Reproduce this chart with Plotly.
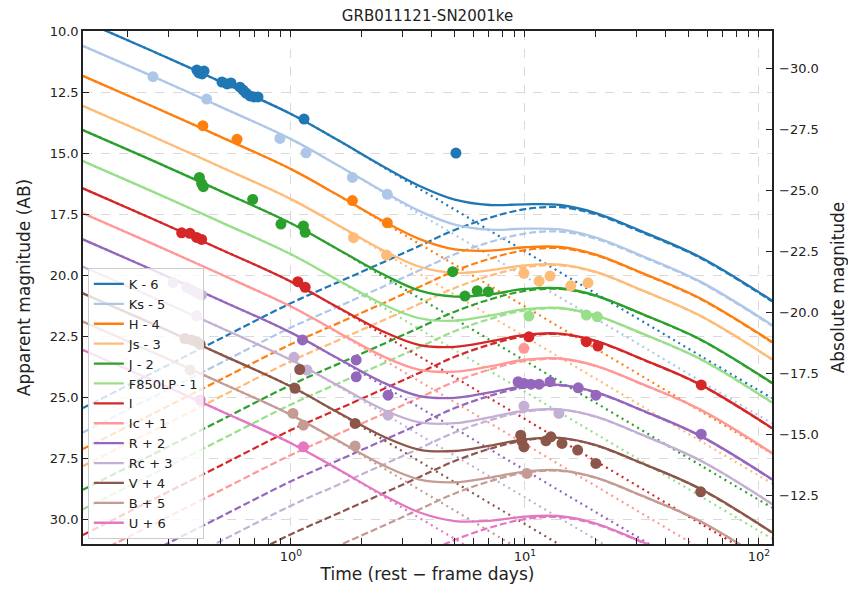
import plotly.graph_objects as go

# ---------------- data ----------------
bands = ["K - 6", "Ks - 5", "H - 4", "Js - 3", "J - 2", "F850LP - 1", "I",
         "Ic + 1", "R + 2", "Rc + 3", "V + 4", "B + 5", "U + 6"]

# model sample times (rest-frame days)
t_knots = [0.129, 0.251, 0.501, 1.0, 1.585, 2.512, 3.548, 5.012, 7.079,
           10.0, 14.13, 19.95, 31.62, 56.23, 113.8]

# afterglow component (dotted)
ag_K = [9.58, 10.79, 12.08, 13.40, 14.47, 15.61, 16.47, 17.32, 18.18, 19.03, 19.89, 20.74, 21.88, 23.31, 25.05]
ag_Ks = [10.61, 11.82, 13.11, 14.43, 15.50, 16.64, 17.50, 18.35, 19.21, 20.06, 20.92, 21.77, 22.91, 24.34, 26.08]
ag_H = [11.84, 13.05, 14.34, 15.66, 16.73, 17.87, 18.73, 19.58, 20.44, 21.29, 22.15, 23.00, 24.14, 25.57, 27.31]
ag_Js = [13.07, 14.28, 15.57, 16.89, 17.96, 19.10, 19.96, 20.81, 21.67, 22.52, 23.38, 24.23, 25.37, 26.80, 28.54]
ag_J = [14.06, 15.27, 16.56, 17.88, 18.95, 20.09, 20.95, 21.80, 22.66, 23.51, 24.37, 25.22, 26.36, 27.79, 29.53]
ag_F = [15.33, 16.54, 17.83, 19.15, 20.22, 21.36, 22.22, 23.07, 23.93, 24.78, 25.64, 26.49, 27.63, 29.06, 30.80]
ag_I = [16.45, 17.66, 18.95, 20.27, 21.34, 22.48, 23.34, 24.19, 25.05, 25.90, 26.76, 27.61, 28.75, 30.18, 31.92]
ag_Ic = [17.47, 18.68, 19.97, 21.29, 22.36, 23.50, 24.36, 25.21, 26.07, 26.92, 27.78, 28.63, 29.77, 31.20, 32.94]
ag_R = [18.54, 19.75, 21.04, 22.36, 23.43, 24.57, 25.43, 26.28, 27.14, 27.99, 28.85, 29.70, 30.84, 32.27, 34.01]
ag_Rc = [19.66, 20.87, 22.16, 23.48, 24.55, 25.69, 26.55, 27.40, 28.26, 29.11, 29.97, 30.82, 31.96, 33.39, 35.13]
ag_V = [20.75, 21.96, 23.25, 24.57, 25.64, 26.78, 27.64, 28.49, 29.35, 30.20, 31.06, 31.91, 33.05, 34.48, 36.22]
ag_B = [21.91, 23.12, 24.41, 25.73, 26.80, 27.94, 28.80, 29.65, 30.51, 31.36, 32.22, 33.07, 34.21, 35.64, 37.38]
ag_U = [23.07, 24.28, 25.57, 26.89, 27.96, 29.10, 29.96, 30.81, 31.67, 32.52, 33.38, 34.23, 35.37, 36.80, 38.54]

# supernova component (dashed)
sn_K = [25.45, 24.05, 22.60, 21.15, 20.30, 19.45, 18.80, 18.15, 17.65, 17.30, 17.22, 17.50, 18.25, 19.30, 21.08]
sn_Ks = [26.45, 25.05, 23.60, 22.15, 21.30, 20.45, 19.80, 19.15, 18.65, 18.30, 18.22, 18.50, 19.25, 20.30, 22.08]
sn_H = [27.13, 25.73, 24.28, 22.83, 21.98, 21.13, 20.48, 19.83, 19.33, 18.98, 18.90, 19.18, 19.93, 20.98, 22.76]
sn_Js = [27.83, 26.43, 24.98, 23.53, 22.68, 21.83, 21.18, 20.53, 20.03, 19.68, 19.60, 19.88, 20.63, 21.68, 23.46]
sn_J = [28.80, 27.40, 25.95, 24.50, 23.65, 22.80, 22.15, 21.50, 21.00, 20.65, 20.57, 20.85, 21.60, 22.65, 24.43]
sn_F = [29.60, 28.20, 26.75, 25.30, 24.45, 23.60, 22.95, 22.30, 21.80, 21.45, 21.37, 21.65, 22.40, 23.45, 25.23]
sn_I = [30.65, 29.25, 27.80, 26.35, 25.50, 24.65, 24.00, 23.35, 22.85, 22.50, 22.42, 22.70, 23.45, 24.50, 26.28]
sn_Ic = [31.67, 30.27, 28.82, 27.37, 26.52, 25.67, 25.02, 24.37, 23.87, 23.52, 23.44, 23.72, 24.47, 25.52, 27.30]
sn_R = [32.75, 31.35, 29.90, 28.45, 27.60, 26.75, 26.10, 25.45, 24.95, 24.60, 24.52, 24.80, 25.55, 26.60, 28.38]
sn_Rc = [33.75, 32.35, 30.90, 29.45, 28.60, 27.75, 27.10, 26.45, 25.95, 25.60, 25.52, 25.80, 26.55, 27.60, 29.38]
sn_V = [34.92, 33.52, 32.07, 30.62, 29.77, 28.92, 28.27, 27.62, 27.12, 26.77, 26.69, 26.97, 27.72, 28.77, 30.55]
sn_B = [36.25, 34.85, 33.40, 31.95, 31.10, 30.25, 29.60, 28.95, 28.45, 28.10, 28.02, 28.30, 29.05, 30.10, 31.88]
sn_U = [38.15, 36.75, 35.30, 33.85, 33.00, 32.15, 31.50, 30.85, 30.35, 30.00, 29.92, 30.20, 30.95, 32.00, 33.78]

# total light curve (solid)
tot_K = [9.58, 10.79, 12.08, 13.40, 14.47, 15.58, 16.35, 16.91, 17.13, 17.10, 17.13, 17.45, 18.21, 19.27, 21.05]
tot_Ks = [10.61, 11.82, 13.11, 14.43, 15.50, 16.61, 17.38, 17.93, 18.14, 18.10, 18.13, 18.45, 19.21, 20.27, 22.05]
tot_H = [11.84, 13.05, 14.34, 15.66, 16.72, 17.82, 18.53, 18.95, 19.00, 18.86, 18.85, 19.15, 19.91, 20.96, 22.74]
tot_Js = [13.07, 14.28, 15.57, 16.89, 17.95, 19.02, 19.66, 19.91, 19.81, 19.60, 19.57, 19.86, 20.62, 21.67, 23.45]
tot_J = [14.06, 15.27, 16.56, 17.88, 18.94, 20.00, 20.64, 20.88, 20.79, 20.57, 20.54, 20.83, 21.59, 22.64, 24.42]
tot_F = [15.33, 16.54, 17.83, 19.15, 20.20, 21.23, 21.77, 21.87, 21.66, 21.40, 21.35, 21.64, 22.39, 23.44, 25.22]
tot_I = [16.45, 17.66, 18.95, 20.27, 21.32, 22.34, 22.87, 22.94, 22.72, 22.45, 22.40, 22.69, 23.44, 24.49, 26.27]
tot_Ic = [17.47, 18.68, 19.97, 21.29, 22.34, 23.36, 23.89, 23.96, 23.74, 23.47, 23.42, 23.71, 24.46, 25.51, 27.29]
tot_R = [18.54, 19.75, 21.04, 22.36, 23.41, 24.43, 24.96, 25.03, 24.81, 24.55, 24.50, 24.79, 25.54, 26.59, 28.37]
tot_Rc = [19.66, 20.87, 22.16, 23.48, 24.52, 25.54, 26.04, 26.07, 25.83, 25.56, 25.50, 25.79, 26.54, 27.60, 29.38]
tot_V = [20.75, 21.96, 23.25, 24.57, 25.62, 26.64, 27.16, 27.21, 26.99, 26.73, 26.67, 26.96, 27.71, 28.76, 30.54]
tot_B = [21.91, 23.12, 24.41, 25.73, 26.78, 27.82, 28.38, 28.49, 28.30, 28.05, 28.00, 28.29, 29.04, 30.09, 31.87]
tot_U = [23.07, 24.28, 25.57, 26.89, 27.95, 29.04, 29.73, 30.08, 30.07, 29.90, 29.88, 30.17, 30.93, 31.99, 33.77]

# observations (days, mag)
obs_t_K = [0.396, 0.404, 0.417, 0.425, 0.507, 0.533, 0.554, 0.605, 0.624, 0.642, 0.668, 0.695, 0.723, 1.137, 5.07]
obs_m_K = [11.60, 11.72, 11.76, 11.64, 12.09, 12.17, 12.13, 12.30, 12.42, 12.54, 12.66, 12.70, 12.70, 13.61, 15.00]
obs_t_Ks = [0.257, 0.436, 0.897, 1.16, 1.83, 2.58]
obs_m_Ks = [11.87, 12.79, 14.40, 14.99, 16.00, 16.69]
obs_t_H = [0.42, 0.588, 1.83, 2.58]
obs_m_H = [13.88, 14.44, 16.95, 17.86]
obs_t_Js = [1.85, 2.56, 9.9, 11.5, 12.8, 15.7, 18.6]
obs_m_Js = [18.47, 19.18, 19.93, 20.25, 20.04, 20.44, 20.32]
obs_t_J = [0.406, 0.415, 0.422, 0.686, 0.906, 1.13, 1.15, 4.91, 5.54, 6.25, 6.97]
obs_m_J = [16.00, 16.25, 16.38, 16.90, 17.91, 17.99, 18.25, 19.86, 20.86, 20.64, 20.68]
obs_t_F = [10.4, 18.3, 20.4]
obs_m_F = [21.68, 21.64, 21.71]
obs_t_I = [0.341, 0.37, 0.395, 0.415, 1.07, 1.15, 10.4, 18.3, 20.5, 56.7]
obs_m_I = [18.27, 18.29, 18.46, 18.54, 20.27, 20.50, 22.53, 22.73, 22.91, 24.50]
obs_t_Ic = [9.9]
obs_m_Ic = [23.00]
obs_t_R = [1.12, 1.9, 1.9, 2.6, 9.35, 9.9, 10.6, 11.5, 12.8, 16.9, 20.1, 56.7]
obs_m_R = [22.66, 23.48, 24.17, 24.92, 24.37, 24.44, 24.47, 24.47, 24.37, 24.62, 24.92, 26.52]
obs_t_Rc = [0.313, 0.358, 0.376, 0.395, 0.415, 0.395, 1.03, 1.17, 2.6, 9.9, 13.97]
obs_m_Rc = [20.31, 20.50, 20.61, 20.72, 20.82, 21.67, 23.37, 23.89, 25.74, 25.37, 25.67]
obs_t_V = [0.352, 0.376, 0.395, 0.409, 1.09, 1.04, 1.88, 9.59, 9.7, 9.9, 12.3, 12.9, 14.4, 16.8, 20.1, 56.4]
obs_m_V = [22.60, 22.66, 22.73, 22.84, 23.87, 24.64, 26.08, 26.56, 26.80, 27.04, 26.79, 26.63, 26.90, 27.17, 27.72, 28.88]
obs_t_B = [0.37, 1.02, 1.13, 1.88, 10.2]
obs_m_B = [23.89, 25.67, 26.15, 27.00, 28.13]
obs_t_U = [0.409, 1.13]
obs_m_U = [25.12, 27.04]

# tick labels
x_tickvals = [1, 10, 100]
x_ticktext = ["10<sup>0</sup>", "10<sup>1</sup>", "10<sup>2</sup>"]
y_tickvals = [10.0, 12.5, 15.0, 17.5, 20.0, 22.5, 25.0, 27.5, 30.0]
y2_tickvals = [-30.0, -27.5, -25.0, -22.5, -20.0, -17.5, -15.0, -12.5]
y2_ticktext = ["\u221230.0", "\u221227.5", "\u221225.0", "\u221222.5",
               "\u221220.0", "\u221217.5", "\u221215.0", "\u221212.5"]
distance_modulus = 41.545

# ---------------- styling ----------------
colors = ["#1f77b4", "#aec7e8", "#ff7f0e", "#ffbb78", "#2ca02c", "#98df8a",
          "#d62728", "#ff9896", "#9467bd", "#c5b0d5", "#8c564b", "#c49c94",
          "#e377c2"]

ag_all = [ag_K, ag_Ks, ag_H, ag_Js, ag_J, ag_F, ag_I, ag_Ic, ag_R, ag_Rc, ag_V, ag_B, ag_U]
sn_all = [sn_K, sn_Ks, sn_H, sn_Js, sn_J, sn_F, sn_I, sn_Ic, sn_R, sn_Rc, sn_V, sn_B, sn_U]
tot_all = [tot_K, tot_Ks, tot_H, tot_Js, tot_J, tot_F, tot_I, tot_Ic, tot_R, tot_Rc, tot_V, tot_B, tot_U]
obs_t_all = [obs_t_K, obs_t_Ks, obs_t_H, obs_t_Js, obs_t_J, obs_t_F, obs_t_I, obs_t_Ic, obs_t_R, obs_t_Rc, obs_t_V, obs_t_B, obs_t_U]
obs_m_all = [obs_m_K, obs_m_Ks, obs_m_H, obs_m_Js, obs_m_J, obs_m_F, obs_m_I, obs_m_Ic, obs_m_R, obs_m_Rc, obs_m_V, obs_m_B, obs_m_U]

fig = go.Figure()

for i, name in enumerate(bands):
    c = colors[i]
    fig.add_trace(go.Scatter(x=t_knots, y=ag_all[i], mode="lines", line_shape="spline",
                             line=dict(color=c, width=2.2, dash="2px,4px"),
                             showlegend=False, hoverinfo="skip"))
    fig.add_trace(go.Scatter(x=t_knots, y=sn_all[i], mode="lines", line_shape="spline",
                             line=dict(color=c, width=2.2, dash="7px,3px"),
                             showlegend=False, hoverinfo="skip"))

for i, name in enumerate(bands):
    c = colors[i]
    fig.add_trace(go.Scatter(x=t_knots, y=tot_all[i], mode="lines", line_shape="spline",
                             line=dict(color=c, width=2.3), name=name))

for i, name in enumerate(bands):
    fig.add_trace(go.Scatter(x=obs_t_all[i], y=obs_m_all[i], mode="markers",
                             marker=dict(color=colors[i], size=11, line=dict(width=0)),
                             showlegend=False, hoverinfo="skip"))

# invisible trace that activates the right-hand axis
fig.add_trace(go.Scatter(x=[1], y=[-20], yaxis="y2", mode="markers",
                         marker=dict(opacity=0), showlegend=False, hoverinfo="skip"))

font = "DejaVu Sans"
txt = "#222222"
grid = "#d9d9d9"

minor_vals = [0.2, 0.3, 0.4, 0.5, 0.6, 0.7, 0.8, 0.9,
              2, 3, 4, 5, 6, 7, 8, 9, 20, 30, 40, 50, 60, 70, 80, 90]

ymin, ymax = 31.02, 10.0

fig.update_layout(
    width=848, height=594,
    margin=dict(l=83, r=76, t=31, b=50, autoexpand=False),
    paper_bgcolor="white", plot_bgcolor="white",
    font=dict(family=font, size=13, color=txt),
    title=dict(text="GRB011121-SN2001ke", x=0.5, xref="paper", xanchor="center",
               y=0.974, yref="container", yanchor="middle",
               font=dict(family=font, size=15, color=txt)),
    xaxis=dict(type="log", range=[-0.889, 2.056], automargin=False,
               tickvals=x_tickvals, ticktext=x_ticktext,
               ticks="inside", ticklen=6, tickwidth=1.2, tickcolor="#222",
               minor=dict(tickvals=minor_vals, ticks="inside", ticklen=3, tickcolor="#222", showgrid=False),
               showline=True, linecolor="#222", linewidth=1.5, mirror="allticks",
               showgrid=True, gridcolor=grid, griddash="dash", gridwidth=1,
               zeroline=False,
               title=dict(text="Time (rest \u2212 frame days)", font=dict(size=17), standoff=2),
               tickfont=dict(size=13)),
    yaxis=dict(range=[ymin, ymax], tickvals=y_tickvals, tickformat=".1f", automargin=False,
               ticks="inside", ticklen=6, tickwidth=1.2, tickcolor="#222",
               showline=True, linecolor="#222", linewidth=1.5, mirror=True,
               showgrid=True, gridcolor=grid, griddash="dash", gridwidth=1,
               zeroline=False,
               title=dict(text="Apparent magnitude (AB)", font=dict(size=17)),
               tickfont=dict(size=13)),
    yaxis2=dict(overlaying="y", side="right", automargin=False,
                range=[ymin - distance_modulus, ymax - distance_modulus],
                tickvals=y2_tickvals, ticktext=y2_ticktext,
                ticks="inside", ticklen=6, tickwidth=1.2, tickcolor="#222",
                ticklabelstandoff=6,
                showline=False, showgrid=False, zeroline=False,
                title=dict(text="Absolute magnitude", font=dict(size=17)),
                tickfont=dict(size=13)),
    legend=dict(x=0.007, y=0.538, xanchor="left", yanchor="top",
                bgcolor="rgba(255,255,255,0.8)", bordercolor="#cccccc", borderwidth=1,
                font=dict(size=13, color=txt), itemwidth=30, tracegroupgap=0),
    showlegend=True,
)

fig.write_html("out.html")
